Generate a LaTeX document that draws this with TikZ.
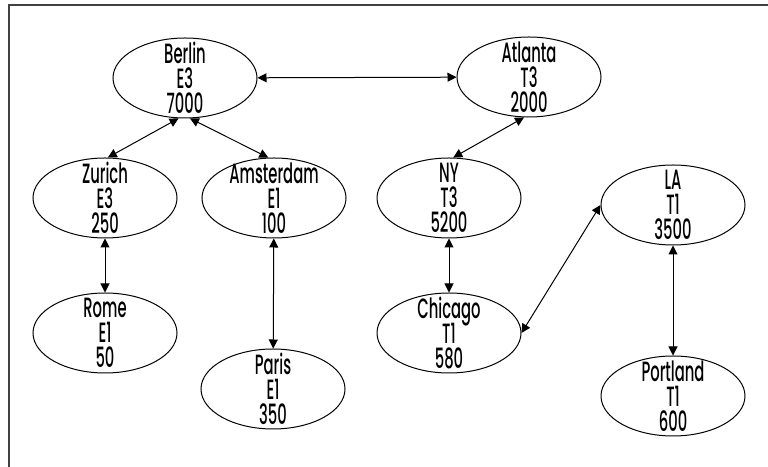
\documentclass[tikz,border=0pt]{standalone}
\usepackage{fontspec}
\setmainfont{Poppins Medium}[FakeStretch=0.53]
\usetikzlibrary{arrows.meta, shapes.geometric}
\newcommand{\cityfont}{\fontsize{14}{12.6}\selectfont\lineskiplimit=-20pt\relax}

\begin{document}
\begin{tikzpicture}[
    x=0.5bp, y=-0.5bp,
    city/.style={ellipse, draw, line width=0.5bp, minimum width=72bp, minimum height=40bp, inner xsep=0pt, inner ysep=-7bp, align=center, font=\cityfont},
    link/.style={<->, >={Triangle[length=4.5bp, width=4.5bp]}, line width=0.5bp},
    frame/.style={line width=1bp, black!75}
  ]
  \useasboundingbox (0,0) rectangle (768,467);

  % Frame
  \draw[frame] (768,5) -- (9,5) -- (9,467);

  % Europe
  \node[city] (berlin) at (185,78) {Berlin\\E3\\7000};
  \node[city] (zurich) at (105,198) {Zurich\\E3\\250};
  \node[city] (amsterdam) at (274,198) {Amsterdam\\E1\\100};
  \node[city] (rome) at (105,333) {Rome\\E1\\50};
  \node[city] (paris) at (273,389) {Paris\\E1\\350};

  % America
  \node[city] (atlanta) at (529,77) {Atlanta\\T3\\2000};
  \node[city] (ny) at (449,198) {NY\\T3\\5200};
  \node[city] (la) at (673,205) {LA\\T1\\3500};
  \node[city] (chicago) at (449,333) {Chicago\\T1\\580};
  \node[city] (portland) at (673,396) {Portland\\T1\\600};

  % Links
  \draw[link] (berlin) -- (atlanta);
  \draw[link] (berlin.261) -- (zurich.86);
  \draw[link] (berlin.277) -- (amsterdam.98);
  \draw[link] (zurich) -- (rome);
  \draw[link] (amsterdam) -- (paris);
  \draw[link] (atlanta.263) -- (ny.84);
  \draw[link] (ny) -- (chicago);
  \draw[link] (chicago.east) -- (la.west);
  \draw[link] (la) -- (portland);

\end{tikzpicture}
\end{document}
